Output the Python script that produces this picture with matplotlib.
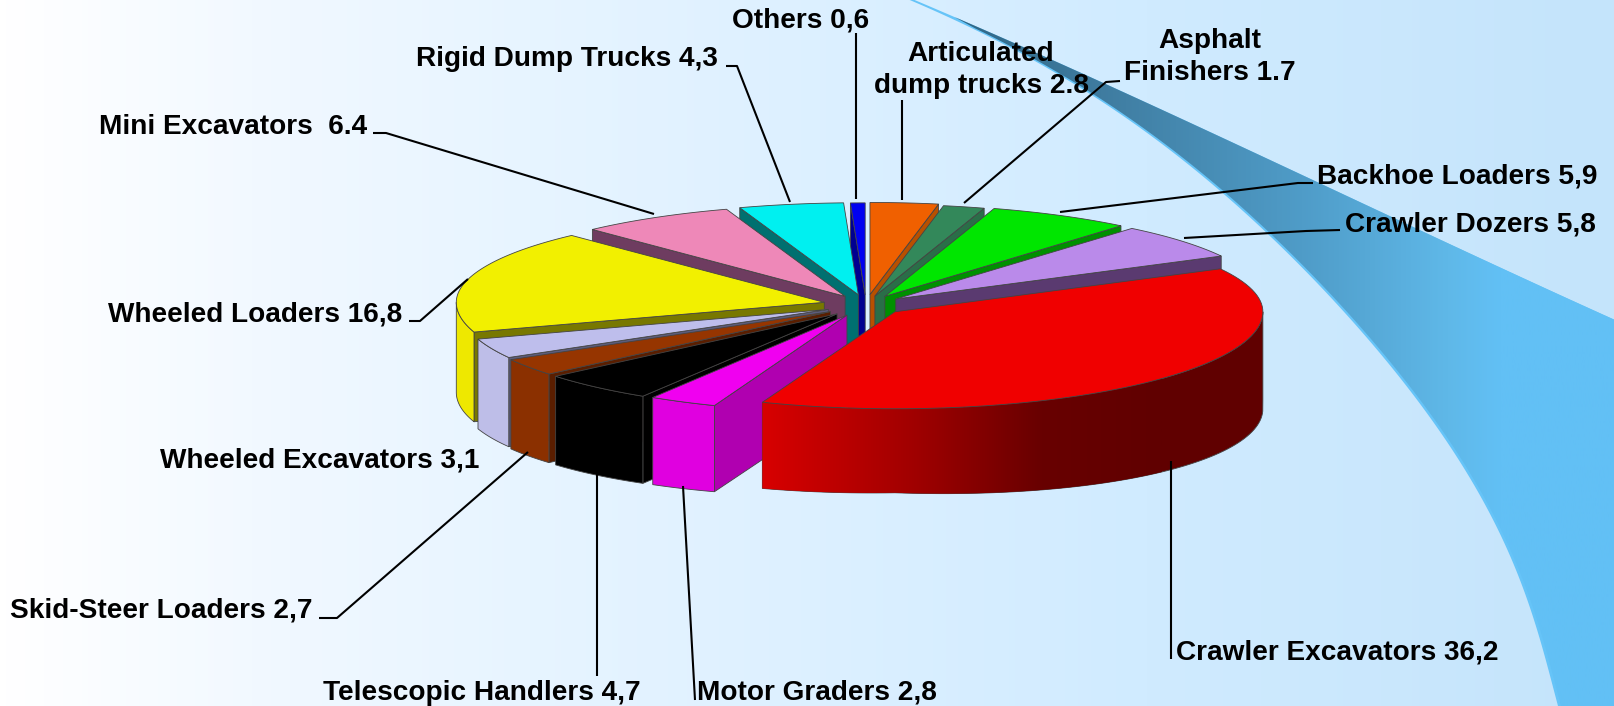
import numpy as np
import matplotlib
matplotlib.use("Agg")
import matplotlib.pyplot as plt
from matplotlib.colors import LinearSegmentedColormap
from matplotlib.patches import Polygon

plt.rcParams['font.family'] = ['Liberation Sans', 'DejaVu Sans']

# clockwise from 12 o'clock
names = ["Articulated\ndump trucks 2.8", "Asphalt\nFinishers 1.7", "Backhoe Loaders 5,9",
         "Crawler Dozers 5,8", "Crawler Excavators 36,2", "Motor Graders 2,8",
         "Telescopic Handlers 4,7", "Skid-Steer Loaders 2,7", "Wheeled Excavators 3,1",
         "Wheeled Loaders 16,8", "Mini Excavators  6.4", "Rigid Dump Trucks 4,3", "Others 0,6"]
values = [2.8, 1.7, 5.9, 5.8, 36.2, 2.8, 4.7, 2.7, 3.1, 16.8, 6.4, 4.3, 0.6]
explode = [0.115, 0.10, 0.107, 0.104, 0.105, 0.116, 0.12, 0.118, 0.112, 0.117, 0.11, 0.113, 0.11]

top_colors = ["#F06000", "#33885A", "#00E600", "#BA8AEA", "#F00000", "#F000F0", "#000000",
              "#963500", "#BEBEEC", "#F2F000", "#EE88B8", "#00F0F0", "#0000F0"]
wall_colors = ["#D05000", "#2A6E48", "#00A000", "#5A3A70", "#C00000", "#E000E0", "#000000",
               "#8B3000", "#BEBEE8", "#EEE800", "#6E3C60", "#007070", "#000090"]
cut_colors = ["#B85000", "#2A6E48", "#009000", "#5A3A70", "#800000", "#B000B0", "#000000",
              "#5A1E00", "#5C5C7C", "#787800", "#6E3C60", "#007070", "#000090"]

label_x = [981, 1210, 1317, 1345, 1176, 697, 323, 10, 160, 108, 99, 416, 801]
label_y = [70, 57, 177, 225, 653, 692, 693, 611, 461, 314, 127, 59, 21]
label_ha = ["center", "center", "left", "left", "left", "left", "left", "left", "left", "left",
            "left", "left", "center"]

leaders = [
    [(902, 100), (902, 200)],
    [(1120, 81), (1106, 82), (964, 203)],
    [(1313, 183), (1298, 183), (1060, 212)],
    [(1340, 230), (1306, 231), (1184, 238)],
    [(1171, 659), (1171, 461)],
    [(695, 700), (683, 486)],
    [(597, 676), (597, 472)],
    [(319, 618), (337, 618), (528, 452)],
    [],
    [(409, 321), (420, 321), (468, 279)],
    [(373, 133), (386, 133), (654, 214)],
    [(726, 66), (737, 66), (790, 202)],
    [(856, 33), (856, 199)],
]

# pie geometry, in pixels
cx, cy = 866, 305
rx, ry_back, ry_front = 368, 92, 97
back_depth = 88

fig = plt.figure(figsize=(16.14, 7.06), dpi=100)
ax = fig.add_axes([0, 0, 1, 1])

bg = LinearSegmentedColormap.from_list("bg", [(0, "#FFFFFF"), (0.18, "#F0F8FF"), (0.71, "#D0EBFF"), (1, "#C4E4FB")])
ax.imshow(np.linspace(0, 1, 512).reshape(1, -1), cmap=bg, extent=[0, 1614, 706, 0], aspect="auto", zorder=0)

# swoosh: lower curve as x(y), upper edge as y(x)
low_y = [0, 23, 60, 113, 193, 300, 423, 533, 617, 706]
low_x = [912, 956, 1036, 1120, 1220, 1335, 1433, 1500, 1533, 1558]
up_x = [912, 971, 1049, 1163, 1309, 1449, 1572, 1614]
up_y = [0, 23, 57, 113, 177, 244, 300, 320]
yy = np.linspace(0, 706, 200)
low = np.column_stack([np.polyval(np.polyfit(low_y, low_x, 5), yy), yy])
xx = np.linspace(912, 1614, 100)
up = np.column_stack([xx, np.polyval(np.polyfit(up_x, up_y, 3), xx)])
corner = np.array([[1614, 706]], float)

ax.add_patch(Polygon(np.vstack([up, corner, low[::-1]]), closed=True, fc="#66C4F8", ec="none", zorder=1))
inner_low = low[8:] + [3, 0]
sw_poly = Polygon(np.vstack([up[6:], corner, inner_low[::-1]]), closed=True, fc="none", ec="none", zorder=1)
ax.add_patch(sw_poly)
sw = LinearSegmentedColormap.from_list("sw", [(0, "#2F6685"), (0.226, "#3F7CA0"), (0.53, "#4F9CC8"),
                                              (0.75, "#5FB8E8"), (0.83, "#62C0F5"), (1, "#62C0F5")])
im = ax.imshow(np.linspace(0, 1, 512).reshape(1, -1), cmap=sw, extent=[950, 1614, 706, 0], aspect="auto", zorder=1)
im.set_clip_path(sw_poly)


def ell(theta, e=1.0):
    # theta in degrees clockwise from north, y grows downwards
    t = np.radians(theta)
    c = np.cos(t)
    return np.column_stack([rx * e * np.sin(t), -np.where(c > 0, ry_back, ry_front) * e * c])


def depth(theta):
    t = np.radians(theta)
    s = np.sin(t)
    d = 84 + np.where(s > 0, 13, 6) * np.abs(s)
    return np.where(np.cos(t) > 0, back_depth, d)


angles = np.cumsum([0] + values) / sum(values) * 360
draw_order = [12, 11, 10, 0, 1, 2, 3, 9, 8, 7, 6, 5, 4]
edge = dict(ec="#444444", lw=0.6)

for i in draw_order:
    a, b = angles[i], angles[i + 1]
    mid = (a + b) / 2
    apex = np.array([cx, cy], float) + ell(np.array([mid]), explode[i])[0]
    z = 5 + draw_order.index(i)

    # cut faces
    for th, show in ((a, 180 < a < 360), (b, 0 < b < 180)):
        if not show:
            continue
        p = apex + ell(np.array([th]))[0]
        d = float(depth(np.array([th]))[0])
        ax.add_patch(Polygon([apex, p, p + [0, d], apex + [0, back_depth]], closed=True,
                             fc=cut_colors[i], zorder=z, **edge))

    # outer wall, front half only
    lo, hi = max(a, 90), min(b, 270)
    if lo < hi:
        th = np.linspace(lo, hi, 80)
        topline = apex + ell(th)
        bottom = topline + np.column_stack([np.zeros(80), depth(th)])
        wall = np.vstack([topline, bottom[::-1]])
        if i == 4:
            patch = Polygon(wall, closed=True, fc="#600000", zorder=z, **edge)
            ax.add_patch(patch)
            grad = LinearSegmentedColormap.from_list("r", [(0, "#D80000"), (0.38, "#A00000"), (0.7, "#680000"),
                                                           (1, "#600000")])
            g = ax.imshow(np.linspace(0, 1, 256).reshape(1, -1), cmap=grad,
                          extent=[wall[:, 0].min(), wall[:, 0].min() + 400, 706, 0], aspect="auto", zorder=z)
            g.set_clip_path(patch)
        else:
            ax.add_patch(Polygon(wall, closed=True, fc=wall_colors[i], zorder=z, **edge))

    # top face
    th = np.linspace(a, b, 80)
    ax.add_patch(Polygon(np.vstack([apex, apex + ell(th)]), closed=True, fc=top_colors[i], zorder=z, **edge))

for i, name in enumerate(names):
    ax.text(label_x[i], label_y[i], name, ha=label_ha[i], va="center", fontsize=20.2, fontweight="bold",
            color="black", linespacing=1.32, zorder=30)
    if leaders[i]:
        pts = np.array(leaders[i])
        ax.plot(pts[:, 0], pts[:, 1], color="black", lw=1.5, zorder=29, solid_capstyle="butt")

ax.set_xlim(0, 1614)
ax.set_ylim(706, 0)
ax.axis("off")
fig.savefig("out.png", dpi=100)
